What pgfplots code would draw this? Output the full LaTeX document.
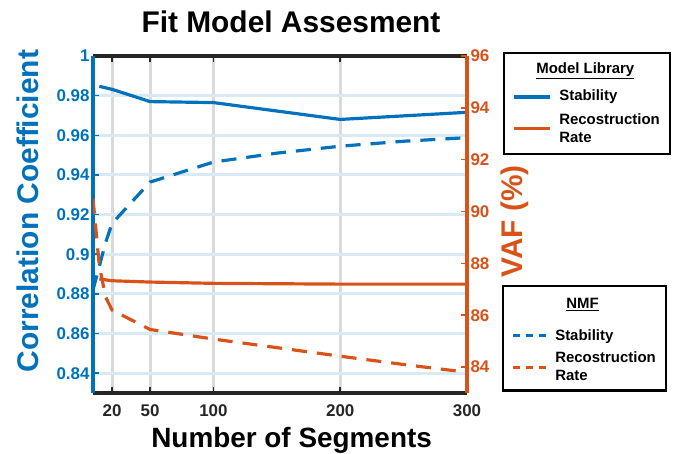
\documentclass[border=0pt]{standalone}
\usepackage{fontspec}
\setmainfont{Liberation Sans}
\usepackage{pgfplots}
\pgfplotsset{compat=1.18}
\definecolor{mblue}{RGB}{0,114,189}
\definecolor{morange}{RGB}{217,83,25}
\definecolor{bgrid}{RGB}{217,234,245}
\definecolor{ggrid}{RGB}{218,218,218}
\definecolor{dk}{RGB}{38,38,38}
\newcommand{\twoline}{\begin{tabular}[t]{@{}l@{}}Recostruction\\Rate\end{tabular}}
\newcommand{\lcell}[3]{\vbox to #1bp{\kern #2bp\hbox{\raisebox{0pt}[0pt][0pt]{#3}}\vss}}
\pgfplotsset{
  common/.style={
    scale only axis, width=374bp, height=337bp,
    at={(93bp,-393bp)}, anchor=south west,
    xmin=5, xmax=300,
    /pgf/number format/assume math mode=true,
    tick align=inside,
    major tick length=6bp,
    ticklabel style={font=\fontsize{17}{20}\selectfont\bfseries},
    legend cell align=left,
  },
  legbox/.style={anchor=north west, draw=black, line width=2.2pt, fill=white,
    font=\fontsize{15}{18}\selectfont\bfseries, cells={inner xsep=0pt, inner ysep=0pt},
    row sep=0pt, column sep=6bp, inner xsep=8bp, inner ysep=0pt},
  longA/.style={legend image code/.code={\draw[##1] (0bp,0bp) -- (36bp,0bp);}},
  twoA/.style={legend image code/.code={\draw[##1] (0bp,3bp) -- (36bp,3bp);}},
  longB/.style={legend image code/.code={\draw[##1] (0bp,0bp) -- (33bp,0bp);}},
  twoB/.style={legend image code/.code={\draw[##1] (0bp,2bp) -- (33bp,2bp);}},
}
\begin{document}
\begin{tikzpicture}[x=1bp,y=1bp]
\path[use as bounding box] (0,0) rectangle (673,-454);
\node[font=\fontsize{30}{36}\selectfont\bfseries, text=black] at (291,-22) {Fit Model Assesment};

\begin{axis}[common,
  ymin=0.83, ymax=1,
  axis x line*=box, axis y line*=left,
  separate axis lines,
  x axis line style={dk, line width=3.5pt, -},
  y axis line style={mblue, line width=3.5pt, -},
  xtick={20,50,100,200,300},
  xticklabels={20,50,100,200,300},
  ytick={0.84,0.86,0.88,0.9,0.92,0.94,0.96,0.98,1},
  yticklabels={0.84,0.86,0.88,0.9,0.92,0.94,0.96,0.98,1},
  xticklabel style={text=dk, yshift=-8bp},
  yticklabel style={text=mblue},
  x tick style={dk, line width=1.5pt},
  y tick style={mblue, line width=1.5pt},
  xmajorgrids, ymajorgrids,
  major x grid style={ggrid, line width=3pt},
  major y grid style={bgrid, line width=3pt},
  xlabel={Number of Segments},
  xlabel style={font=\fontsize{28}{34}\selectfont\bfseries, text=black, at={(axis description cs:0.531,-0.139)}, anchor=center},
  ylabel={Correlation Coefficient},
  ylabel style={font=\fontsize{30}{36}\selectfont\bfseries, text=mblue, at={(axis description cs:-0.174,0.54)}, anchor=center},
  legend style={legbox, at={(1.0963,1.011)}},
]
\addplot[mblue, line width=3.2pt, forget plot] coordinates {
(10,0.9847) (20,0.9832) (50,0.977) (100,0.9765) (200,0.968) (300,0.9716)};
\addplot[mblue, line width=3.2pt, dash pattern=on 15bp off 10bp, forget plot] coordinates {
(5,0.882) (10,0.894) (15,0.906) (20,0.9155) (50,0.9364) (100,0.9465) (150,0.951) (200,0.9545) (250,0.957) (300,0.9588)};
\addlegendimage{empty legend}
\addlegendentry{\lcell{26.3}{18.55}{\hspace*{-23bp}\underline{Model Library}}}
\addlegendimage{longA, mblue, line width=3.2pt}
\addlegendentry{\lcell{18.3}{13.55}{Stability}}
\addlegendimage{twoA, morange, line width=3.2pt}
\addlegendentry{\lcell{39.3}{13.55}{\twoline}}
\end{axis}

\begin{axis}[common,
  ymin=83, ymax=96,
  axis x line=none, axis y line*=right,
  xtick=\empty,
  y axis line style={morange, line width=3.5pt, -},
  ytick={84,86,88,90,92,94,96},
  yticklabels={84,86,88,90,92,94,96},
  yticklabel style={text=morange},
  y tick style={morange, line width=1.5pt},
  ylabel={VAF (\%)},
  ylabel style={font=\fontsize{30}{36}\selectfont\bfseries, text=morange, at={(axis description cs:1.128,0.509)}, anchor=center},
  legend style={legbox, at={(1.0936,0.3205)}},
]
\addplot[morange, line width=3.2pt, forget plot] coordinates {
(10,87.4) (20,87.33) (50,87.28) (100,87.23) (200,87.2) (300,87.2)};
\addplot[morange, line width=3.2pt, dash pattern=on 15bp off 10bp, forget plot] coordinates {
(5,90.5) (10,87.9) (15,86.7) (20,86.2) (50,85.45) (100,85.08) (150,84.75) (200,84.42) (250,84.1) (300,83.8)};
\addlegendimage{empty legend}
\addlegendentry{\lcell{31.3}{20.55}{\hspace*{11bp}\underline{NMF}}}
\addlegendimage{longB, mblue, line width=3.2pt, dash pattern=on 7bp off 6bp}
\addlegendentry{\lcell{20.3}{15.55}{Stability}}
\addlegendimage{twoB, morange, line width=3.2pt, dash pattern=on 7bp off 6bp}
\addlegendentry{\lcell{36.3}{11.55}{\twoline}}
\end{axis}
\end{tikzpicture}
\end{document}
